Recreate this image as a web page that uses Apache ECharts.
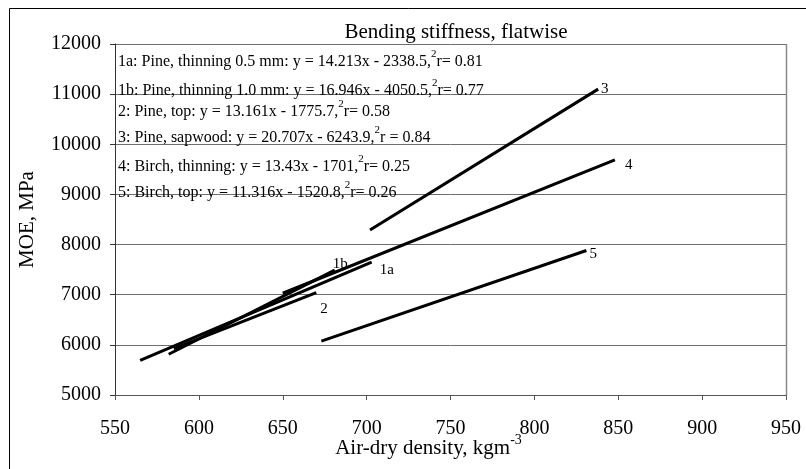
<!DOCTYPE html>
<html>
<head>
<meta charset="utf-8">
<script src="https://cdn.jsdelivr.net/npm/echarts@6/dist/echarts.min.js"></script>
<style>
  html, body { margin: 0; padding: 0; background: #fff; }
  #chart { width: 806px; height: 469px; }
</style>
</head>
<body>
<div id="chart"></div>
<script>
// Regression lines of MOE against air-dry density, one per wood group
const lineIds   = ['1a', '1b', '2', '3', '4', '5'];
const xStart    = [565, 582, 585, 702, 650, 673];
const xEnd      = [703, 681, 670, 838, 848, 831];
const moeStart  = [5692, 5812, 5923, 8290, 7029, 6075];
const moeEnd    = [7648, 7490, 7042, 11100, 9688, 7882];

// Fitted equations printed in the upper left of the plot
const eqMain = [
  '1a: Pine, thinning 0.5 mm: y = 14.213x - 2338.5,',
  '1b: Pine, thinning 1.0 mm: y = 16.946x - 4050.5,',
  '2: Pine, top: y = 13.161x - 1775.7,',
  '3: Pine, sapwood: y = 20.707x - 6243.9,',
  '4: Birch, thinning: y = 13.43x - 1701,',
  '5: Birch, top: y = 11.316x - 1520.8,'
];
const eqR2 = ['r= 0.81', 'r= 0.77', 'r= 0.58', 'r = 0.84', 'r= 0.25', 'r= 0.26'];

// Axis settings
const xMin = 550, xMax = 950, xStep = 50;
const yMin = 5000, yMax = 12000, yStep = 1000;

const serif = '"Liberation Serif", "DejaVu Serif", serif';

// Where each end-number sits relative to the line end
const endLabelOffset = {
  '1a': [6, 8],
  '1b': [-4, -6],
  '2':  [2, 16],
  '3':  [1, 0],
  '4':  [8, 5],
  '5':  [1, 4]
};

const series = lineIds.map((id, i) => ({
  name: id,
  type: 'line',
  symbol: 'none',
  silent: true,
  data: [[xStart[i], moeStart[i]], [xEnd[i], moeEnd[i]]],
  lineStyle: { color: '#000', width: 3 },
  endLabel: {
    show: true,
    formatter: id,
    distance: 2,
    offset: endLabelOffset[id],
    color: '#000',
    fontFamily: serif,
    fontSize: 15
  },
  z: 3
}));

const eqTop = [58, 87, 108, 134, 163, 189];
const eqGraphics = eqMain.map((t, i) => ({
  type: 'text',
  left: 118,
  top: eqTop[i] - 9,
  style: {
    text: t + '{s|2}' + eqR2[i],
    fill: '#000',
    font: '16px ' + serif,
    rich: {
      s: { fontSize: 11, fontFamily: serif, fill: '#000', padding: [0, 0, 15, 0] }
    }
  },
  z: 10
}));

const chart = echarts.init(document.getElementById('chart'), null, { renderer: 'canvas' });
chart.setOption({
  backgroundColor: '#fff',
  animation: false,
  title: {
    text: 'Bending stiffness, flatwise',
    left: 451,
    top: 17,
    textAlign: 'center',
    textStyle: { fontFamily: serif, fontSize: 21, fontWeight: 'normal', color: '#000' }
  },
  grid: { left: 115, right: 20, top: 44, bottom: 74, containLabel: false, outerBoundsMode: 'none' },
  xAxis: {
    type: 'value',
    min: xMin, max: xMax, interval: xStep,
    name: 'Air-dry density, kgm{s|-3}',
    nameLocation: 'middle',
    nameGap: 38,
    nameMoveOverlap: false,
    nameTextStyle: {
      fontFamily: serif, fontSize: 21, color: '#000',
      padding: [0, 44, 0, 0],
      rich: { s: { fontSize: 14, fontFamily: serif, color: '#000', padding: [0, 0, 16, 0] } }
    },
    axisLine: { show: true, onZero: false, lineStyle: { color: '#555', width: 1 } },
    axisTick: { show: true, inside: false, length: 5, lineStyle: { color: '#555' } },
    axisLabel: { fontFamily: serif, fontSize: 20, color: '#000', margin: 24, formatter: v => String(v) },
    splitLine: { show: false }
  },
  yAxis: {
    type: 'value',
    min: yMin, max: yMax, interval: yStep,
    name: 'MOE, MPa',
    nameLocation: 'middle',
    nameGap: 77,
    nameMoveOverlap: false,
    nameRotate: 90,
    nameTextStyle: { fontFamily: serif, fontSize: 21, color: '#000' },
    axisLine: { show: true, lineStyle: { color: '#333', width: 1 } },
    axisTick: { show: true, length: 5, lineStyle: { color: '#333' } },
    axisLabel: { fontFamily: serif, fontSize: 20, color: '#000', margin: 14, formatter: v => String(v) },
    splitLine: { show: true, lineStyle: { color: '#6e6e6e', width: 1 } }
  },
  graphic: [
    // outer chart frame
    {
      type: 'rect',
      shape: { x: 9.5, y: 8.5, width: 900, height: 600 },
      style: { fill: 'none', stroke: '#000', lineWidth: 1 },
      silent: true,
      z: 0
    },
    // plot area border on the right side
    {
      type: 'line',
      shape: { x1: 786.5, y1: 44, x2: 786.5, y2: 395 },
      style: { stroke: '#8a8a8a', lineWidth: 1.5 },
      silent: true,
      z: 1
    }
  ].concat(eqGraphics),
  series: series
});
</script>
</body>
</html>
